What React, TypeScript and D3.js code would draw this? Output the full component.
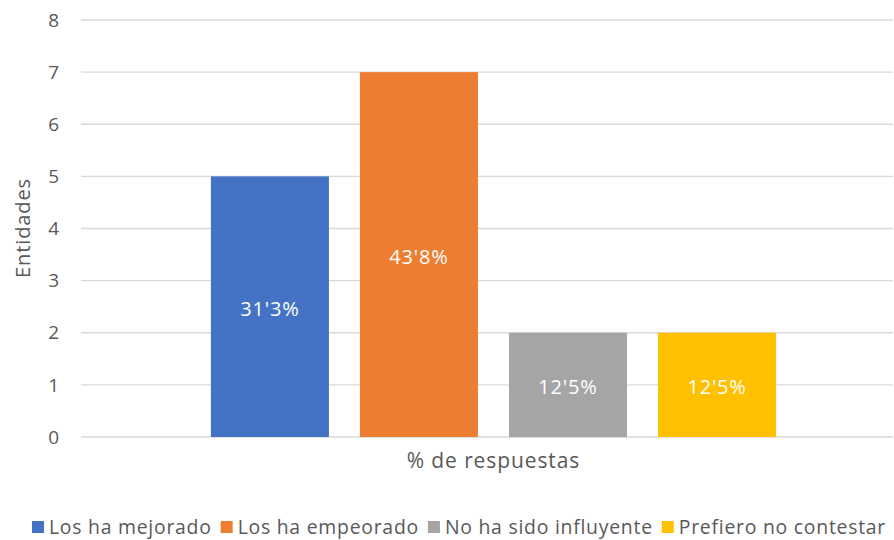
import React, { useRef, useEffect } from "react";
import * as d3 from "d3";

const category = "% de respuestas";
const series = ["Los ha mejorado", "Los ha empeorado", "No ha sido influyente", "Prefiero no contestar"];
const values = [5, 7, 2, 2];
const labels = ["31'3%", "43'8%", "12'5%", "12'5%"];
const colors = ["#4472C4", "#ED7D31", "#A5A5A5", "#FFC000"];
const yTicks = [0, 1, 2, 3, 4, 5, 6, 7, 8];

const W = 894;
const H = 540;
const FONT = "'Open Sans', 'Noto Sans', sans-serif";

const App = () => {
  const svgRef = useRef<SVGSVGElement>(null);

  useEffect(() => {
    const svg = d3.select(svgRef.current);
    svg.selectAll("*").remove();

    const left = 81;
    const right = 893;
    const top = 20;
    const bottom = 437;

    const y = d3.scaleLinear().domain([0, 8]).range([bottom, top]);
    const x0 = d3
      .scaleBand()
      .domain([category])
      .range([left, right])
      .paddingInner(0)
      .paddingOuter(0.181)
      .align(0.53);
    const x1 = d3
      .scaleBand()
      .domain(series)
      .range([0, x0.bandwidth()])
      .paddingInner(0.208)
      .paddingOuter(0.104);

    // Gridlines
    svg
      .append("g")
      .selectAll("line")
      .data(yTicks)
      .enter()
      .append("line")
      .attr("x1", left)
      .attr("x2", right)
      .attr("y1", (d) => y(d))
      .attr("y2", (d) => y(d))
      .attr("stroke", "#D9D9D9")
      .attr("stroke-width", 1.3);

    // Y tick labels
    svg
      .append("g")
      .selectAll("text")
      .data(yTicks)
      .enter()
      .append("text")
      .attr("x", 59)
      .attr("y", (d) => y(d))
      .attr("dy", "0.35em")
      .attr("text-anchor", "end")
      .attr("font-family", FONT)
      .attr("font-size", 19)
      .attr("fill", "#595959")
      .text((d) => d);

    // Bars
    const g = svg.append("g").attr("transform", `translate(${x0(category)},0)`);
    g.selectAll("rect")
      .data(series)
      .enter()
      .append("rect")
      .attr("x", (d) => x1(d)!)
      .attr("width", x1.bandwidth())
      .attr("y", (d, i) => y(values[i]))
      .attr("height", (d, i) => bottom - y(values[i]))
      .attr("fill", (d, i) => colors[i]);

    // Data labels
    g.selectAll("text.lbl")
      .data(series)
      .enter()
      .append("text")
      .attr("class", "lbl")
      .attr("x", (d) => x1(d)! + x1.bandwidth() / 2)
      .attr("y", (d, i) => (y(values[i]) + bottom) / 2 + 2)
      .attr("dy", "0.35em")
      .attr("text-anchor", "middle")
      .attr("font-family", FONT)
      .attr("font-size", 20)
      .attr("letter-spacing", 0.8)
      .attr("fill", "#FFFFFF")
      .text((d, i) => labels[i]);

    // X axis title
    svg
      .append("text")
      .attr("x", x0(category)! + x0.bandwidth() / 2)
      .attr("y", 461)
      .attr("dy", "0.35em")
      .attr("text-anchor", "middle")
      .attr("font-family", FONT)
      .attr("font-size", 21)
      .attr("letter-spacing", 0.9)
      .attr("fill", "#595959")
      .text(category);

    // Y axis title
    svg
      .append("text")
      .attr("transform", `translate(23,228) rotate(-90)`)
      .attr("dy", "0.35em")
      .attr("text-anchor", "middle")
      .attr("font-family", FONT)
      .attr("font-size", 20)
      .attr("letter-spacing", 0.9)
      .attr("fill", "#595959")
      .text("Entidades");

    // Legend
    const legend = svg.append("g");
    let lx = 32;
    series.forEach((s, i) => {
      legend
        .append("rect")
        .attr("x", lx)
        .attr("y", 521)
        .attr("width", 12)
        .attr("height", 12)
        .attr("fill", colors[i]);
      const t = legend
        .append("text")
        .attr("x", lx + 17)
        .attr("y", 527)
        .attr("dy", "0.35em")
        .attr("font-family", FONT)
        .attr("font-size", 19.4)
        .attr("letter-spacing", 0.75)
        .attr("fill", "#595959")
        .text(s);
      const w = (t.node() as SVGTextElement).getComputedTextLength();
      lx = lx + 17 + w + 9;
    });
  }, []);

  return (
    <div style={{ position: "absolute", left: 0, top: 0 }}>
      <svg ref={svgRef} width={W} height={H} style={{ display: "block", background: "#fff" }}></svg>
    </div>
  );
};

export default App;
